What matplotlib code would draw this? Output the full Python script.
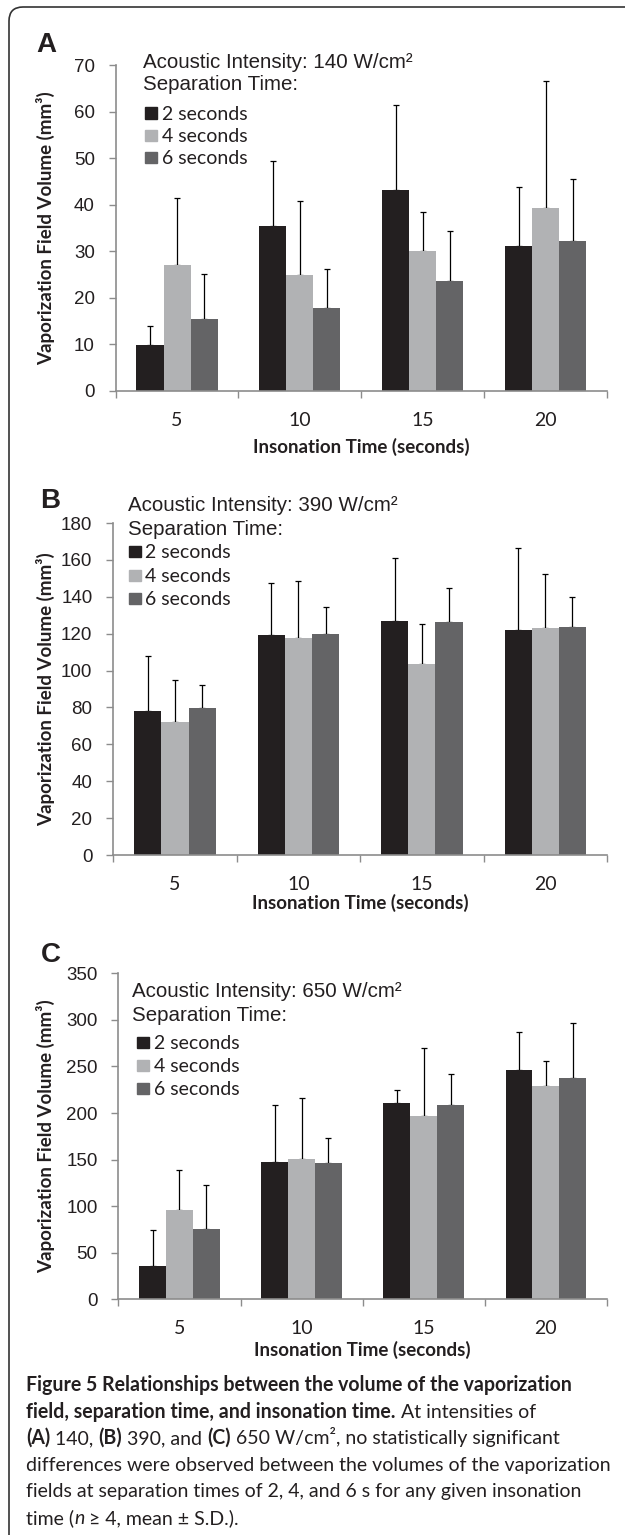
import numpy as np
import matplotlib.pyplot as plt
import matplotlib.transforms as mtransforms
from matplotlib.patches import FancyBboxPatch, Rectangle

W, H = 625, 1535

# data, mean and S.D. in mm^3
insonation = ["5", "10", "15", "20"]
separation = ["2 seconds", "4 seconds", "6 seconds"]
intensities = [140, 390, 650]

a_mean = [[9.9, 35.5, 43.2, 31.1],
          [27.1, 24.9, 30.1, 39.2],
          [15.5, 17.8, 23.6, 32.1]]
a_sd = [[3.9, 13.8, 18.2, 12.7],
        [14.4, 15.8, 8.2, 27.4],
        [9.6, 8.3, 10.7, 13.5]]

b_mean = [[78.2, 119.3, 126.7, 121.8],
          [72.0, 117.5, 103.3, 123.0],
          [79.6, 119.8, 126.2, 123.6]]
b_sd = [[29.9, 28.0, 34.3, 44.8],
        [23.0, 31.0, 21.7, 29.4],
        [12.4, 14.4, 18.8, 16.2]]

c_mean = [[36.0, 147.7, 210.7, 246.6],
          [96.0, 151.0, 197.0, 229.0],
          [75.0, 146.0, 209.0, 238.0]]
c_sd = [[38.9, 61.3, 14.3, 40.4],
        [43.0, 65.5, 73.0, 27.0],
        [47.6, 27.5, 33.0, 58.8]]

COLORS = ["#231f20", "#b1b2b4", "#646466"]
AXCOL = "#8c8c8c"
TXT = "#231f20"
BW = 0.22

fig = plt.figure(figsize=(W / 100, H / 100), dpi=100)


def fx(px):
    return px / W


def fy(py):
    return 1 - py / H


def draw_panel(letter, box, means, sds, ymax, ystep, intensity, ann, label_y):
    # box = (left px, top px, right px, bottom px)
    l, t, r, b = box
    ax = fig.add_axes([fx(l), fy(b), (r - l) / W, (b - t) / H])
    x = np.arange(len(insonation))
    for i in range(3):
        ax.bar(x + (i - 1) * BW, means[i], BW, color=COLORS[i], zorder=2,
               yerr=[np.zeros(4), sds[i]],
               error_kw=dict(ecolor="black", elinewidth=0.9, capsize=2.5, capthick=0.9, zorder=1))
    ax.set_xlim(-0.5, 3.5)
    ax.set_ylim(0, ymax)
    ax.set_yticks(np.arange(0, ymax + 1, ystep))
    ax.set_xticks(x)
    ax.set_xticklabels(insonation, family="Lato", fontsize=14, color=TXT)
    ax.set_xticks(np.arange(-0.5, 4, 1), minor=True)
    for lab in ax.get_yticklabels():
        lab.set_family("Liberation Sans")
        lab.set_fontsize(13.5)
        lab.set_color(TXT)
    ax.tick_params(axis="x", which="major", length=0, pad=15)
    ax.tick_params(axis="x", which="minor", length=5, width=1, color=AXCOL)
    ax.tick_params(axis="y", length=5, width=1, color=AXCOL, pad=10)
    for s in ["top", "right"]:
        ax.spines[s].set_visible(False)
    for s in ["left", "bottom"]:
        ax.spines[s].set_color(AXCOL)
        ax.spines[s].set_linewidth(1.2)

    # labels
    fig.text(fx((l + r) / 2), fy(label_y), "Insonation Time (seconds)", family="Lato",
             weight="bold", fontsize=13.5, ha="center", va="center", color=TXT)
    fig.text(fx(46), fy((t + b) / 2), "Vaporization Field Volume (mm³)", family="Lato",
             weight="bold", fontsize=13.5, ha="center", va="center", rotation=90, color=TXT)
    fig.text(fx(letter[1]), fy(letter[2]), letter[0], family="Liberation Sans", weight="bold",
             fontsize=20, ha="left", va="baseline", color=TXT)

    # annotation + legend
    tx, y1, y2, sqx, legx, rows = ann
    fig.text(fx(tx), fy(y1 + 7.5), "Acoustic Intensity: %d W/cm²" % intensity,
             family="Liberation Sans", fontsize=14.8, ha="left", va="baseline", color=TXT)
    fig.text(fx(tx), fy(y2 + 7.5), "Separation Time:",
             family="Liberation Sans", fontsize=14.8, ha="left", va="baseline", color=TXT)
    for i, yc in enumerate(rows):
        fig.add_artist(Rectangle((fx(sqx), fy(yc + 5.5)), 12 / W, 11 / H,
                                 transform=fig.transFigure, color=COLORS[i]))
        fig.text(fx(legx), fy(yc + 6.5), separation[i], family="Lato", fontsize=14,
                 ha="left", va="baseline", color=TXT)
    return ax


draw_panel(("A", 36, 52), (115.6, 65, 607, 390.7), a_mean, a_sd, 70, 10, intensities[0],
           (143, 61, 83, 145, 162, [113, 135.7, 157.7]), 446.7)
draw_panel(("B", 40, 508), (113.3, 523, 607, 855), b_mean, b_sd, 180, 20, intensities[1],
           (128, 503.3, 527.3, 128.5, 145, [552, 575.5, 598.5]), 902.7)
draw_panel(("C", 41, 962), (118.4, 973.3, 607, 1299.3), c_mean, c_sd, 350, 50, intensities[2],
           (131.6, 989.3, 1013.3, 136.5, 153.5, [1042.3, 1065.7, 1088.3]), 1350)

# rounded frame around the figure (runs off the right and bottom edge)
frame = FancyBboxPatch((9, -40), 700, H - 7 + 40, boxstyle="round,pad=0,rounding_size=14",
                       transform=mtransforms.IdentityTransform(), fill=False,
                       edgecolor="#333333", linewidth=1.2)
fig.add_artist(frame)

# caption
B_, N_, I_ = "bold", "normal", "italic"
caption = [
    [("Figure 5 Relationships between the volume of the vaporization", B_)],
    [("field, separation time, and insonation time.", B_), (" At intensities of", N_)],
    [("(A)", B_), (" 140, ", N_), ("(B)", B_), (" 390, and ", N_), ("(C)", B_),
     (" 650 W/cm², no statistically significant", N_)],
    [("differences were observed between the volumes of the vaporization", N_)],
    [("fields at separation times of 2, 4, and 6 s for any given insonation", N_)],
    [("time (", N_), ("n", I_), (" ≥ 4, mean ± S.D.).", N_)],
]
cap_y = [1385, 1411.5, 1438, 1465, 1491.5, 1518]

renderer = fig.canvas.get_renderer()


def run_text(xpos, ypos, txt, kind, size):
    return fig.text(fx(xpos), fy(ypos), txt, family=["Lato", "DejaVu Sans"], fontsize=size,
                    weight="bold" if kind == B_ else "normal",
                    style="italic" if kind == I_ else "normal",
                    ha="left", va="baseline", color=TXT)


# pick the caption size so the widest line fits the width used in the original
widest = 0
for runs in caption:
    w = 0
    for txt, kind in runs:
        probe = run_text(0, 0, txt, kind, 10)
        w += probe.get_window_extent(renderer).width
        probe.remove()
    widest = max(widest, w)
cap_size = 10 * 588 / widest

for runs, yc in zip(caption, cap_y):
    xpos = 26
    for txt, kind in runs:
        t = run_text(xpos, yc + 6, txt, kind, cap_size)
        xpos += t.get_window_extent(renderer).width

fig.savefig("out.png", dpi=100)
